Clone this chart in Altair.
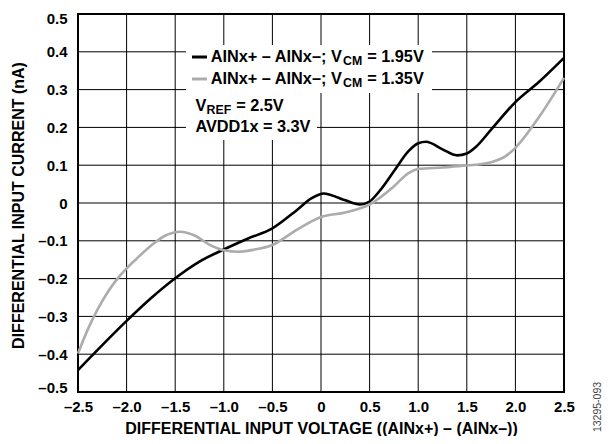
import altair as alt
import pandas as pd

# Series 1: V_CM = 1.95V (black)
x_black = [-2.5, -2.25, -2.0, -1.75, -1.5, -1.25, -1.0, -0.75, -0.5, -0.25, -0.1, 0.03,
           0.1, 0.25, 0.4, 0.5, 0.6, 0.75, 0.9, 1.0, 1.08, 1.25, 1.4, 1.5, 1.6, 1.75,
           2.0, 2.25, 2.5]
y_black = [-0.442, -0.376, -0.312, -0.252, -0.199, -0.155, -0.123, -0.094, -0.067, -0.019, 0.012, 0.025,
           0.021, 0.007, -0.004, 0.004, 0.031, 0.084, 0.137, 0.158, 0.162, 0.142, 0.126, 0.131, 0.150, 0.194,
           0.267, 0.322, 0.384]

# Series 2: V_CM = 1.35V (gray)
x_gray = [-2.5, -2.4, -2.3, -2.2, -2.1, -2.0, -1.9, -1.75, -1.6, -1.45, -1.3, -1.15, -1.0, -0.85,
          -0.7, -0.5, -0.25, 0.0, 0.25, 0.5, 0.75, 0.9, 1.0, 1.25, 1.5, 1.75, 1.9, 2.0, 2.25, 2.5]
y_gray = [-0.398, -0.335, -0.282, -0.238, -0.202, -0.173, -0.148, -0.113, -0.086, -0.076, -0.086, -0.110,
          -0.125, -0.129, -0.124, -0.111, -0.071, -0.037, -0.025, -0.004, 0.044, 0.079, 0.090, 0.094,
          0.099, 0.108, 0.124, 0.146, 0.230, 0.331]

series_names = ["AINx+ – AINx–; VCM = 1.95V", "AINx+ – AINx–; VCM = 1.35V"]
x_ticks = [-2.5, -2.0, -1.5, -1.0, -0.5, 0.0, 0.5, 1.0, 1.5, 2.0, 2.5]
y_ticks = [-0.5, -0.4, -0.3, -0.2, -0.1, 0.0, 0.1, 0.2, 0.3, 0.4, 0.5]

df = pd.concat([
    pd.DataFrame({"v": x_black, "i": y_black, "s": series_names[0]}),
    pd.DataFrame({"v": x_gray, "i": y_gray, "s": series_names[1]}),
])

FONT = "Liberation Sans"
label_expr = "datum.value == 0 ? '0' : (datum.value < 0 ? '–' : '') + format(abs(datum.value), '.1f')"

W, H = 486, 378

common = dict(grid=False, domain=False, ticks=False, labelExpr=label_expr,
              labelFont=FONT, labelFontWeight="bold", labelFontSize=15, labelColor="black",
              titleFont=FONT, titleFontWeight="bold", titleFontSize=16, titleColor="black",
              titleBaseline="middle", titleAlign="center")

x_scale = alt.Scale(domain=[-2.5, 2.5], nice=False, zero=False)
y_scale = alt.Scale(domain=[-0.5, 0.5], nice=False, zero=False)
x_axis = alt.Axis(values=x_ticks, title="DIFFERENTIAL INPUT VOLTAGE ((AINx+) – (AINx–))",
                  titleX=W / 2, titleY=36, labelPadding=7, labelFlush=False, **common)
y_axis = alt.Axis(values=y_ticks, title="DIFFERENTIAL INPUT CURRENT (nA)",
                  titleX=-60, titleY=H / 2 + 2, titleAngle=270, labelPadding=11,
                  labelFlush=True, labelFlushOffset=3, **common)

vgrid = alt.Chart(pd.DataFrame({"v": x_ticks})).mark_rule(color="black", strokeWidth=1).encode(
    x=alt.X("v:Q", scale=x_scale, axis=x_axis))
hgrid = alt.Chart(pd.DataFrame({"i": y_ticks})).mark_rule(color="black", strokeWidth=1).encode(
    y=alt.Y("i:Q", scale=y_scale, axis=y_axis))

lines = alt.Chart(df).mark_line(interpolate="monotone", strokeWidth=2.6).encode(
    x=alt.X("v:Q", scale=x_scale, axis=x_axis),
    y=alt.Y("i:Q", scale=y_scale, axis=y_axis),
    color=alt.Color("s:N", scale=alt.Scale(domain=series_names, range=["#000000", "#acacac"]), legend=None),
    detail="s:N",
)

one = pd.DataFrame({"a": [0]})

def box(x1, x2, y1, y2):
    return alt.Chart(one).mark_rect(color="white").encode(
        x=alt.value(x1), x2=alt.value(x2), y=alt.value(y1), y2=alt.value(y2))

LF = 16.3
SF = 12.3

def txt(t, x, y, size=LF, dy=0, align="left"):
    return alt.Chart(one).mark_text(text=t, font=FONT, fontWeight="bold", fontSize=size,
                                    align=align, baseline="middle", dy=dy, color="black").encode(
        x=alt.value(x), y=alt.value(y))

def swatch(y, color):
    return alt.Chart(one).mark_rule(color=color, strokeWidth=3).encode(
        x=alt.value(114), x2=alt.value(129), y=alt.value(y))

r1, r2, r3, r4 = 43, 65, 91.5, 112.5
x0 = 132.7
sub_x = x0 + 8.086 * LF + 0.5
rest_x = sub_x + 1.555 * SF + 0.278 * LF + 0.5
vx = 117.4
vsub = vx + 0.667 * LF + 0.3
vrest = vsub + 2.0 * SF + 0.278 * LF + 0.5

annot = [
    box(108, 354, 31, 79),
    box(108, 239, 79, 126),
    swatch(r1, "#000000"),
    swatch(r2, "#acacac"),
    txt("AINx+ – AINx–; V", x0, r1),
    txt("CM", sub_x, r1, size=SF, dy=4),
    txt("= 1.95V", rest_x, r1),
    txt("AINx+ – AINx–; V", x0, r2),
    txt("CM", sub_x, r2, size=SF, dy=4),
    txt("= 1.35V", rest_x, r2),
    txt("V", vx, r3),
    txt("REF", vsub, r3, size=SF, dy=4),
    txt("= 2.5V", vrest, r3),
    txt("AVDD1x = 3.3V", vx, r4),
    alt.Chart(one).mark_text(text="13295-093", font=FONT, fontSize=10.5, angle=270,
                             align="center", baseline="middle", color="#444444").encode(
        x=alt.value(519.5), y=alt.value(393)),
]

chart = alt.layer(vgrid, hgrid, annot[0], annot[1], lines, *annot[2:]).properties(
    width=W, height=H,
    autosize=alt.AutoSizeParams(type="none"),
    padding={"left": 70, "top": 6, "right": 38, "bottom": 44},
).configure_view(
    stroke="black", strokeWidth=2,
)

chart.save("out.html", embed_options={"renderer": "svg", "actions": False})
